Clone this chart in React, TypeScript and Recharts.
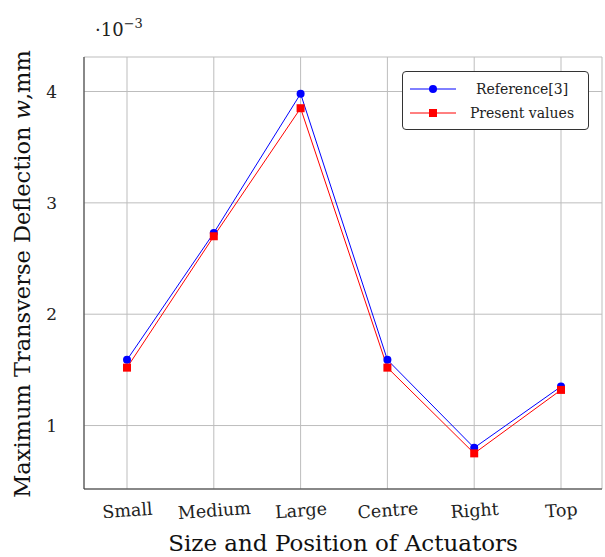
import {
  LineChart,
  Line,
  XAxis,
  YAxis,
  CartesianGrid,
} from "recharts";

const categories = ["Small", "Medium", "Large", "Centre", "Right", "Top"];
const referenceValues = [1.59, 2.73, 3.98, 1.59, 0.8, 1.35];
const presentValues = [1.52, 2.7, 3.85, 1.52, 0.75, 1.32];
const yTicks = [1, 2, 3, 4];

const data = categories.map((name, i) => ({
  name,
  reference: referenceValues[i],
  present: presentValues[i],
}));

const FONT = "'DejaVu Serif', serif";
const BLUE = "#0000ff";
const RED = "#ff0000";
const DOMAIN: [number, number] = [0.43, 4.31];
const PAD = { left: 43, right: 41 };

const legendRows = [
  { label: "Reference[3]", color: BLUE, square: false },
  { label: "Present values", color: RED, square: true },
];

// small legend box in the top right corner
function LegendBox() {
  return (
    <div
      style={{
        position: "absolute",
        left: 402,
        top: 71,
        width: 187,
        height: 59,
        border: "1px solid #333",
        borderRadius: 4,
        background: "#fff",
        fontFamily: FONT,
        fontSize: 14,
        color: "#222",
        boxSizing: "border-box",
        paddingTop: 5,
      }}
    >
      {legendRows.map((r) => (
        <div
          key={r.label}
          style={{ display: "flex", alignItems: "center", height: 24 }}
        >
          <svg width={52} height={12} style={{ marginLeft: 5, flex: "none" }}>
            <line x1={2} y1={6} x2={48} y2={6} stroke={r.color} strokeWidth={1} />
            {r.square ? (
              <rect x={21} y={2} width={8} height={8} fill={r.color} />
            ) : (
              <circle cx={25} cy={6} r={4} fill={r.color} />
            )}
          </svg>
          <span style={{ flex: 1, textAlign: "center", whiteSpace: "nowrap", paddingRight: 4 }}>
            {r.label}
          </span>
        </div>
      ))}
    </div>
  );
}

export default function App() {
  return (
    <div style={{ position: "absolute", left: 0, top: 0, width: 605, height: 557, background: "#fff" }}>
      <LineChart
        width={605}
        height={557}
        data={data}
        margin={{ top: 57, right: 3, bottom: 0, left: 0 }}
      >
        <CartesianGrid stroke="#bdbdbd" strokeWidth={1} />
        <XAxis
          dataKey="name"
          height={68}
          padding={PAD}
          interval={0}
          tickLine={false}
          tickMargin={9}
          axisLine={{ stroke: "#333" }}
          angle={-4}
          tick={{ fontFamily: FONT, fontSize: 17.5, fill: "#222" }}
          label={{
            value: "Size and Position of Actuators",
            position: "insideBottom",
            offset: 6,
            style: { fontFamily: FONT, fontSize: 23, fill: "#111" },
          }}
        />
        <XAxis
          xAxisId="top"
          dataKey="name"
          orientation="top"
          height={0}
          padding={PAD}
          tick={false}
          tickLine={false}
          axisLine={{ stroke: "#333" }}
        />
        <YAxis
          domain={DOMAIN}
          ticks={yTicks}
          allowDataOverflow
          width={84}
          tickLine={false}
          tickMargin={21}
          axisLine={{ stroke: "#333" }}
          tick={{ fontFamily: FONT, fontSize: 17, fill: "#222" }}
        />
        <YAxis
          yAxisId="right"
          orientation="right"
          domain={DOMAIN}
          width={0}
          tick={false}
          tickLine={false}
          axisLine={{ stroke: "#333" }}
        />
        <Line
          dataKey="reference"
          name="Reference[3]"
          stroke={BLUE}
          strokeWidth={1}
          dot={{ r: 4, fill: BLUE, stroke: BLUE, strokeWidth: 0 }}
          isAnimationActive={false}
        />
        <Line
          dataKey="present"
          name="Present values"
          stroke={RED}
          strokeWidth={1}
          dot={(p: any) => (
            <rect key={p.index} x={p.cx - 4} y={p.cy - 4} width={8} height={8} fill={RED} />
          )}
          isAnimationActive={false}
        />
        <text
          x={30}
          y={274}
          transform="rotate(-90 30 274)"
          textAnchor="middle"
          fontFamily={FONT}
          fontSize={22.5}
          fill="#111"
        >
          Maximum Transverse Deflection <tspan fontStyle="italic">w</tspan>,mm
        </text>
        <text x={95} y={36} fontFamily={FONT} fontSize={18} fill="#222">
          ·10<tspan dy={-8} fontSize={13}>−3</tspan>
        </text>
      </LineChart>
      <LegendBox />
    </div>
  );
}
